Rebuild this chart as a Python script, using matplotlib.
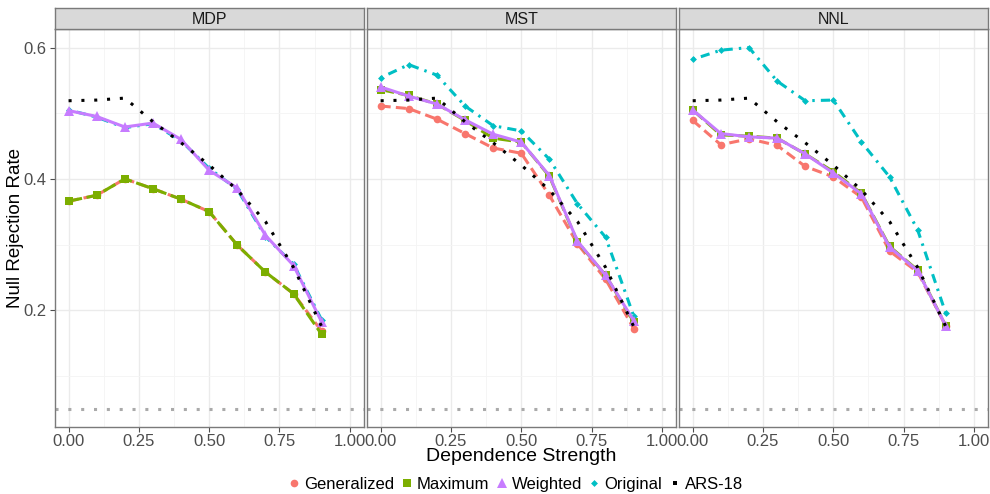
"""Null rejection rate vs dependence strength, three facets (MDP / MST / NNL)."""
import matplotlib
matplotlib.use("Agg")
import matplotlib.pyplot as plt
from matplotlib.lines import Line2D
import numpy as np

plt.rcParams["font.family"] = ["Liberation Sans", "DejaVu Sans"]

# ── data ─────────────────────────────────────────────────────────
strength = [0.0, 0.1, 0.2, 0.3, 0.4, 0.5, 0.6, 0.7, 0.8, 0.9]
panels = ["MDP", "MST", "NNL"]

generalized = {
    "MDP": [0.366, 0.375, 0.400, 0.385, 0.369, 0.350, 0.299, 0.258, 0.225, 0.168],
    "MST": [0.511, 0.507, 0.491, 0.469, 0.447, 0.439, 0.375, 0.301, 0.247, 0.172],
    "NNL": [0.489, 0.452, 0.461, 0.451, 0.419, 0.403, 0.372, 0.290, 0.258, 0.176],
}
maximum = {
    "MDP": [0.366, 0.375, 0.400, 0.385, 0.369, 0.350, 0.299, 0.258, 0.225, 0.163],
    "MST": [0.536, 0.527, 0.514, 0.489, 0.462, 0.456, 0.404, 0.304, 0.253, 0.182],
    "NNL": [0.505, 0.467, 0.465, 0.462, 0.438, 0.411, 0.378, 0.297, 0.261, 0.176],
}
weighted = {
    "MDP": [0.504, 0.495, 0.479, 0.485, 0.460, 0.413, 0.386, 0.314, 0.268, 0.182],
    "MST": [0.540, 0.526, 0.514, 0.490, 0.468, 0.456, 0.405, 0.305, 0.253, 0.184],
    "NNL": [0.505, 0.469, 0.464, 0.462, 0.438, 0.409, 0.377, 0.296, 0.260, 0.176],
}
original = {
    "MDP": [0.505, 0.494, 0.478, 0.484, 0.458, 0.416, 0.384, 0.312, 0.270, 0.185],
    "MST": [0.554, 0.574, 0.558, 0.511, 0.481, 0.473, 0.430, 0.362, 0.311, 0.191],
    "NNL": [0.582, 0.596, 0.600, 0.549, 0.519, 0.520, 0.456, 0.403, 0.322, 0.195],
}
# ARS-18 is the same reference curve in every facet
ars18 = [0.519, 0.520, 0.523, 0.487, 0.455, 0.421, 0.383, 0.335, 0.265, 0.175]
nominal_level = 0.05

# ── styles ───────────────────────────────────────────────────────
series = [
    # label, data, colour, marker, msize, dashes, zorder
    ("Generalized", generalized, "#F8766D", "o", 5.5, (3.3, 1.7), 3),
    ("Maximum", maximum, "#7CAE00", "s", 5.5, (4.5, 1.5), 4),
    ("Weighted", weighted, "#C77CFF", "^", 6.5, None, 5),
    ("Original", original, "#00BFC4", "D", 3.5, (0.8, 2.0, 3.0, 2.0), 2),
]

W, H = 990, 494
left_px, right_px, top_px, bottom_px = 54.5, 988.0, 29.5, 426.7
gap_px = 2.7
strip_px = 21.2
pw = (right_px - left_px - 2 * gap_px) / 3

fig = plt.figure(figsize=(W / 100, H / 100), dpi=100)

border = "#7A7A7A"
tick_col = "#4D4D4D"

for i, name in enumerate(panels):
    x0 = left_px + i * (pw + gap_px)
    ax = fig.add_axes([x0 / W, 1 - bottom_px / H, pw / W, (bottom_px - top_px) / H])
    ax.set_xlim(-0.05, 1.05)
    ax.set_ylim(0.0225, 0.6275)
    ax.set_xticks([0, 0.25, 0.5, 0.75, 1.0])
    ax.set_xticklabels(["0.00", "0.25", "0.50", "0.75", "1.00"])
    ax.set_xticks([0.125, 0.375, 0.625, 0.875], minor=True)
    ax.set_yticks([0.2, 0.4, 0.6])
    ax.set_yticks([0.1, 0.3, 0.5], minor=True)
    ax.grid(True, which="major", color="#EBEBEB", linewidth=1.0, zorder=0)
    ax.grid(True, which="minor", color="#F4F4F4", linewidth=0.6, zorder=0)
    ax.set_axisbelow(True)
    ax.tick_params(axis="both", which="major", labelsize=12, colors=tick_col,
                   length=3.5, width=0.8, pad=2)
    ax.tick_params(axis="both", which="minor", length=0)
    if i > 0:
        ax.tick_params(axis="y", which="both", left=False, labelleft=False)
    for sp in ax.spines.values():
        sp.set_color(border)
        sp.set_linewidth(1.0)

    ax.axhline(nominal_level, color="#AAAAAA", linewidth=2.2,
               dashes=(1, 3.2), zorder=1)

    for label, data, col, mk, ms, dashes, z in series:
        kw = dict(color=col, linewidth=2.2, marker=mk, markersize=ms,
                  markeredgewidth=0, zorder=z)
        ln, = ax.plot(strength, data[name], **kw)
        if dashes is not None:
            ln.set_dashes(dashes)
    ln, = ax.plot(strength, ars18, color="black", linewidth=2.2, zorder=6)
    ln.set_dashes((1, 3.2))

    # facet strip
    sax = fig.add_axes([x0 / W, 1 - top_px / H, pw / W, strip_px / H])
    sax.set_facecolor("#D9D9D9")
    sax.set_xticks([])
    sax.set_yticks([])
    for sp in sax.spines.values():
        sp.set_color(border)
        sp.set_linewidth(1.0)
    sax.text(0.5, 0.45, name, ha="center", va="center", fontsize=11.5,
             color="#1A1A1A", transform=sax.transAxes)

fig.text((left_px + right_px) / 2 / W, 1 - 456 / H, "Dependence Strength",
         ha="center", va="center", fontsize=14)
fig.text(16 / W, 1 - (top_px + bottom_px) / 2 / H, "Null Rejection Rate",
         ha="center", va="center", rotation=90, fontsize=13.5)

handles = [
    Line2D([], [], linestyle="none", marker=mk, color=col,
           markersize=ms, markeredgewidth=0)
    for _, _, col, mk, ms, _, _ in series
]
handles.append(Line2D([], [], linestyle="none", marker="s", color="black",
                      markersize=2.5, markeredgewidth=0))
labels = [s[0] for s in series] + ["ARS-18"]
fig.legend(handles, labels, loc="center", bbox_to_anchor=(515 / W, 1 - 484 / H),
           ncol=5, frameon=False, fontsize=12, handlelength=0.8,
           handletextpad=0.2, columnspacing=0.35, borderaxespad=0)

fig.savefig("out.png", dpi=100)
plt.close(fig)
